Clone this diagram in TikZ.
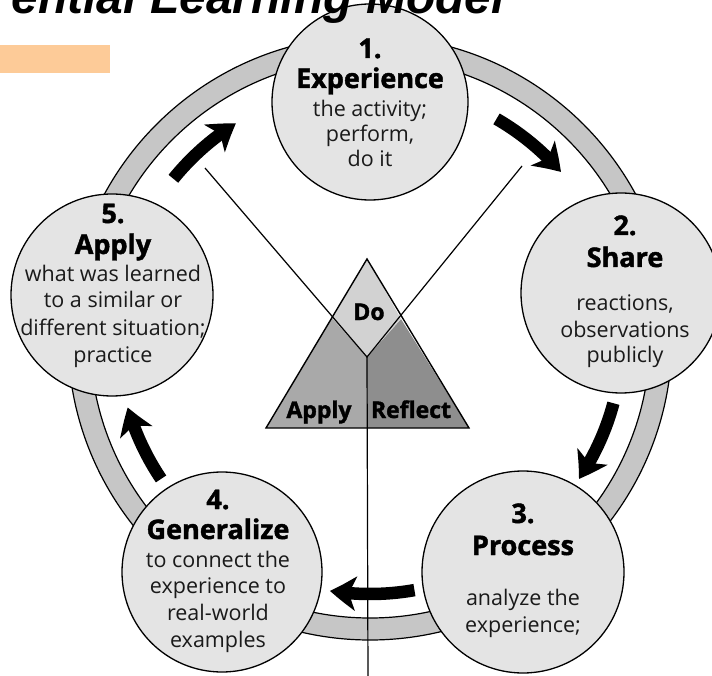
\documentclass[tikz,border=0pt]{standalone}
\usepackage{fontspec}
\setmainfont{Open Sans}[BoldFeatures={FakeBold=1.6}]
\newfontfamily\titlefont{Liberation Sans}
\usetikzlibrary{arrows.meta,bending,calc}
\definecolor{ringgray}{HTML}{C6C6C6}
\definecolor{circfill}{HTML}{E4E4E4}
\definecolor{dofill}{HTML}{D2D2D2}
\definecolor{applyfill}{HTML}{A9A9A9}
\definecolor{reflectfill}{HTML}{8E8E8E}
\definecolor{peach}{HTML}{FDCB98}
\definecolor{bodytext}{HTML}{1A1A1A}
\begin{document}
\begin{tikzpicture}[x=1pt,y=1pt,
 stage/.style={circle, draw=black, line width=1.3pt, fill=circfill, inner sep=0pt},
 num/.style={anchor=base, font=\fontsize{27}{27}\selectfont\bfseries, inner sep=0pt},
 head/.style={anchor=base, font=\fontsize{27}{27}\selectfont\bfseries, inner sep=0pt},
 body/.style={anchor=base, font=\fontsize{21.5}{21.5}\selectfont, text=bodytext, inner sep=0pt},
 cyc/.style={line width=12.5pt, -{Stealth[length=26pt,width=34pt,inset=7pt,bend]}},
 tri/.style={anchor=base, font=\fontsize{23}{23}\selectfont\bfseries, inner sep=0pt},
 thinline/.style={line width=1.2pt}]
\clip (0,0) rectangle (712,-676);
\fill[white] (0,0) rectangle (712,-676);
% centre of the cycle
\coordinate (o) at (370,-338);
% ring
\fill[ringgray, even odd rule] (o) circle[radius=302] (o) circle[radius=280];
\draw[thinline] (o) circle[radius=302];
\draw[thinline] (o) circle[radius=280];
% orange bar
\fill[peach] (0,-45) rectangle (110,-73);
% cycle arrows
\draw[cyc] ($(o)+(141:253)$) arc[start angle=141, end angle=122, radius=253];
\draw[cyc] ($(o)+(60:253)$) arc[start angle=60, end angle=41, radius=253];
\draw[cyc] ($(o)+(-15:252)$) arc[start angle=-15, end angle=-34, radius=252];
\draw[cyc] ($(o)+(-80:256)$) arc[start angle=-80, end angle=-99, radius=256];
\draw[cyc] ($(o)+(214:252)$) arc[start angle=214, end angle=196, radius=252];
% triangle
\coordinate (ta) at (367,-259);
\coordinate (tl) at (266,-428);
\coordinate (tr) at (469,-428);
\coordinate (dl) at (332,-318);
\coordinate (dr) at (401,-319);
\coordinate (db) at (367,-357);
\coordinate (bm) at (367,-428);
\coordinate (lt) at (205,-168);
\coordinate (rt) at (522,-166);
\coordinate (bot) at (368,-680);
\fill[applyfill] (dl) -- (db) -- (bm) -- (tl) -- cycle;
\fill[reflectfill] (dr) -- (db) -- (bm) -- (tr) -- cycle;
\fill[dofill] (ta) -- (dr) -- (db) -- (dl) -- cycle;
\draw[line width=1.4pt, line join=miter] (ta) -- (tr) -- (tl) -- cycle;
\draw[thinline] (lt) -- (db) -- (rt);
\draw[thinline] (db) -- (bot);
\node[tri] (tdo) at (369,-320) {Do};
\node[tri] (tapply) at (319,-418) {Apply};
\node[tri] (treflect) at (411,-418) {Reflect};
% stage circles
\node[stage, minimum size=196pt] (c1) at (370,-102) {};
\node[stage, minimum size=200pt] (c2) at (621,-293) {};
\node[stage, minimum size=202pt] (c3) at (523,-572) {};
\node[stage, minimum size=200pt] (c4) at (222,-572) {};
\node[stage, minimum size=202pt] (c5) at (112,-295) {};
% texts 1
\node[num] (n1) at (370,-58) {1.};
\node[head] (h1) at (370,-88) {Experience};
\node[body] (b1a) at (370,-117) {the activity;};
\node[body] (b1b) at (370,-142) {perform,};
\node[body] (b1c) at (370,-167) {do it};
% texts 2
\node[num] (n2) at (625,-235) {2.};
\node[head] (h2) at (625,-267) {Share};
\node[body] (b2a) at (625,-310) {reactions,};
\node[body] (b2b) at (625,-337) {observations};
\node[body] (b2c) at (625,-362) {publicly};
% texts 3
\node[num] (n3) at (523,-523) {3.};
\node[head] (h3) at (523,-555) {Process};
\node[body] (b3a) at (523,-605) {analyze the};
\node[body] (b3b) at (523,-632) {experience;};
% texts 4
\node[num] (n4) at (218,-509) {4.};
\node[head] (h4) at (218,-539) {Generalize};
\node[body] (b4a) at (218,-567) {to connect the};
\node[body] (b4b) at (218,-593) {experience to};
\node[body] (b4c) at (218,-620) {real-world};
\node[body] (b4d) at (218,-647) {examples};
% texts 5
\node[num] (n5) at (113,-223) {5.};
\node[head] (h5) at (113,-254) {Apply};
\node[body] (b5a) at (113,-282) {what was learned};
\node[body] (b5b) at (113,-308) {to a similar or};
\node[body] (b5c) at (113,-335) {different situation;};
\node[body] (b5d) at (113,-362) {practice};
% title
\node[anchor=base east, inner sep=0pt, font=\titlefont\fontsize{48}{48}\selectfont\bfseries\itshape] (title) at (505,-14) {ential Learning Model};
\end{tikzpicture}
\end{document}
